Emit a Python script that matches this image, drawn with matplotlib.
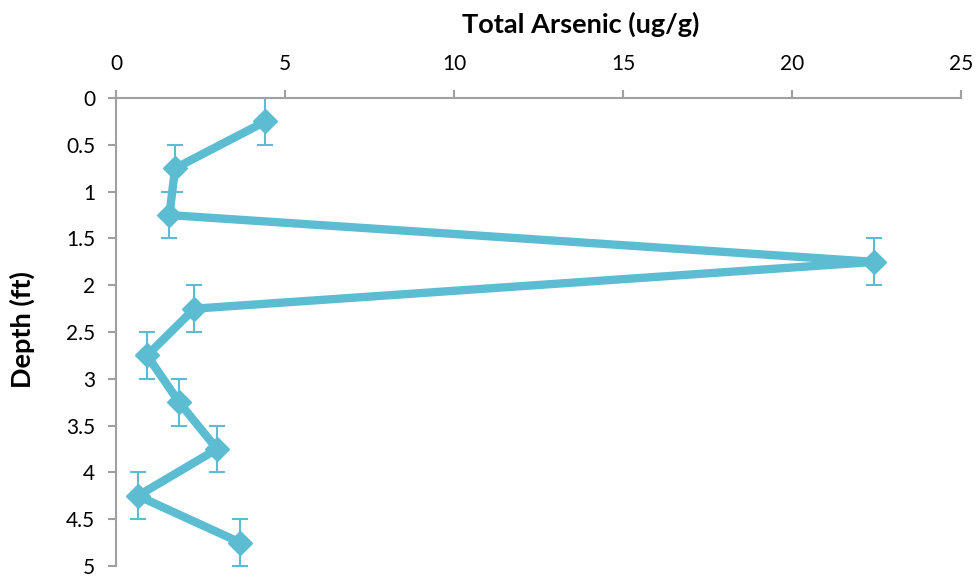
import matplotlib
matplotlib.use("Agg")
import matplotlib.pyplot as plt

depth = [0.25, 0.75, 1.25, 1.75, 2.25, 2.75, 3.25, 3.75, 4.25, 4.75]
arsenic = [4.42, 1.75, 1.58, 22.43, 2.32, 0.92, 1.87, 2.99, 0.65, 3.68]
depth_err = [0.25] * len(depth)
x_ticks = [0, 5, 10, 15, 20, 25]
y_ticks = [0, 0.5, 1, 1.5, 2, 2.5, 3, 3.5, 4, 4.5, 5]

plt.rcParams['font.family'] = ['Lato', 'DejaVu Sans']
color = '#5BBCD2'
axis_col = '#A0A0A0'

fig = plt.figure(figsize=(9.76, 5.77), dpi=100)
ax = fig.add_axes([0.1188, 0.019, 0.866, 0.811])

ax.errorbar(arsenic, depth, yerr=depth_err, color=color, lw=6,
            marker='D', ms=12.5, mfc=color, mec=color,
            ecolor=color, elinewidth=1.5, capsize=5.5, capthick=1.5,
            solid_joinstyle='miter')

ax.set_xlim(0, 25)
ax.set_ylim(5, 0)
ax.set_xticks(x_ticks)
ax.set_yticks(y_ticks)
ax.set_yticklabels([f'{v:g}' for v in y_ticks])
ax.xaxis.tick_top()
for s in ['right', 'bottom']:
    ax.spines[s].set_visible(False)
for s in ['top', 'left']:
    ax.spines[s].set_color(axis_col)
    ax.spines[s].set_linewidth(1.5)
ax.tick_params(axis='both', colors=axis_col, labelcolor='black', labelsize=15,
               width=1.5, length=6, direction='out')
ax.tick_params(axis='x', pad=11)
ax.tick_params(axis='y', pad=9)
fig.text(581 / 976, 1 - 24 / 577, 'Total Arsenic (ug/g)', fontsize=19.5,
         fontweight='bold', ha='center', va='center')
fig.text(22 / 976, 1 - 330 / 577, 'Depth (ft)', fontsize=19.5,
         fontweight='bold', ha='center', va='center', rotation=90)
for c in ax.get_children():
    try:
        c.set_clip_on(False)
    except Exception:
        pass

fig.savefig('out.png', dpi=100, facecolor='white')
